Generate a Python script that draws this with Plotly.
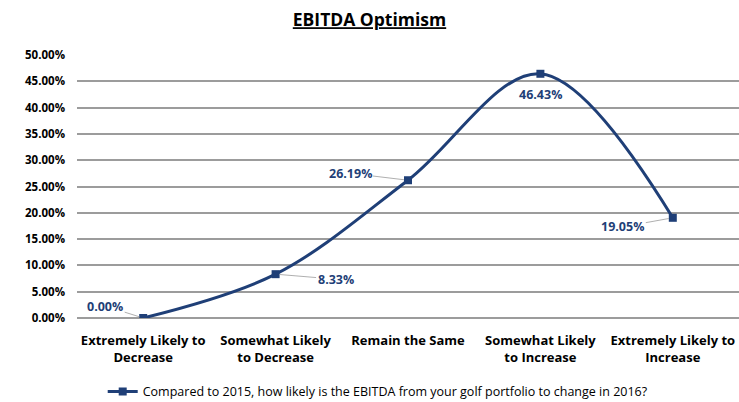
import plotly.graph_objects as go

categories = [
    "Extremely Likely to<br>Decrease",
    "Somewhat Likely<br>to Decrease",
    "Remain the Same",
    "Somewhat Likely<br>to Increase",
    "Extremely Likely to<br>Increase",
]
values = [0.0, 0.0833, 0.2619, 0.4643, 0.1905]
series_name = "Compared to 2015, how likely is the EBITDA from your golf portfolio to change in 2016?"
# label offsets (pixels) relative to each point
label_dx = [-38, 60, -58, 0, -50]
label_dy = [-12, 5, -7, 21, 9]

NAVY = "#1F3F77"
FONT = "'Open Sans', sans-serif"

fig = go.Figure()
fig.add_trace(go.Scatter(
    x=categories, y=values, name=series_name,
    mode="lines+markers",
    line=dict(color=NAVY, width=3, shape="spline", smoothing=1.0),
    marker=dict(symbol="square", size=8, color=NAVY),
))

for c, v, dx, dy in zip(categories, values, label_dx, label_dy):
    fig.add_annotation(
        x=c, y=v, text=f"<b>{v*100:.2f}%</b>",
        showarrow=(dx != 0), arrowhead=0, arrowwidth=0.8, arrowcolor="#9A9A9A",
        ax=dx, ay=dy, standoff=4,
        yshift=0 if dx != 0 else -dy,
        font=dict(family=FONT, size=12.5, color=NAVY),
    )

fig.update_layout(
    width=739, height=402,
    margin=dict(l=77, r=0, t=55, b=84, autoexpand=False),
    paper_bgcolor="white", plot_bgcolor="white",
    title=dict(text="<b><u>EBITDA Optimism</u></b>", x=0.5, xanchor="center",
               y=0.95, yanchor="middle",
               font=dict(family=FONT, size=17.5, color="black")),
    font=dict(family=FONT, color="black"),
    showlegend=True,
    legend=dict(orientation="h", x=0.455, xanchor="center",
                yref="container", y=0.025, yanchor="middle",
                font=dict(family=FONT, size=12.5, color="black")),
    xaxis=dict(range=[-0.5, 4.5], showgrid=False, showline=False, zeroline=False,
               ticks="", ticklabelstandoff=13,
               tickfont=dict(family=FONT, size=13, color="black", weight="bold")),
    yaxis=dict(range=[0, 0.5], dtick=0.05, tickformat=".2%",
               showgrid=True, gridcolor="#9C9C9C", gridwidth=1.8,
               zeroline=True, zerolinecolor="#9C9C9C", zerolinewidth=1.8,
               showline=False, ticks="", ticklabelstandoff=11,
               tickfont=dict(family=FONT, size=11.5, color="black", weight="bold")),
)

fig.write_html("out.html")
